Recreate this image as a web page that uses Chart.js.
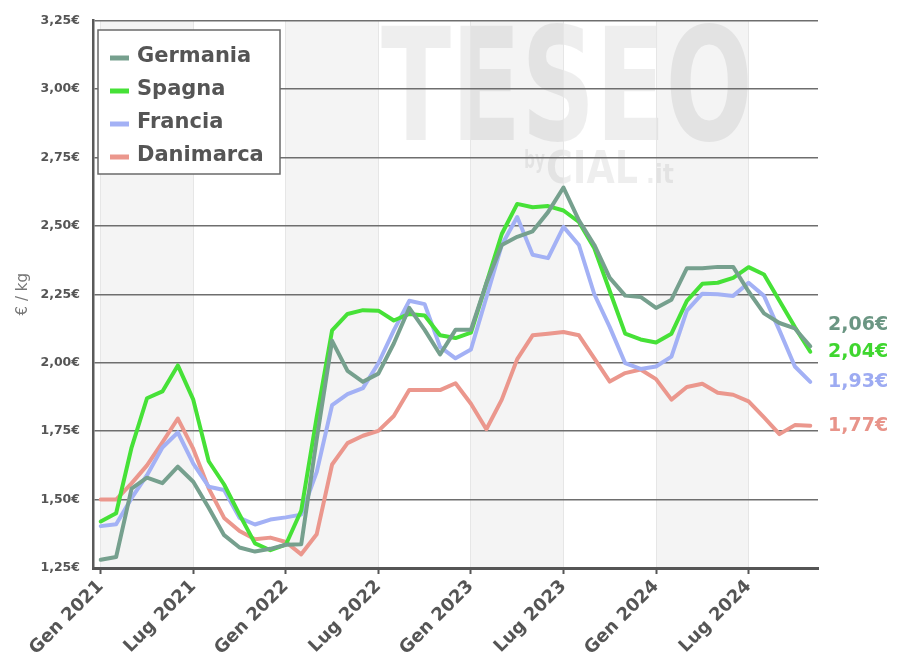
<!DOCTYPE html>
<html>
<head>
<meta charset="utf-8">
<script src="https://cdn.jsdelivr.net/npm/chart.js@4.4.1/dist/chart.umd.min.js"></script>
<style>
  html, body { margin: 0; padding: 0; background: #fff; }
  #wrap { width: 901px; height: 657px; position: relative; }
</style>
</head>
<body>
<div id="wrap"><canvas id="prezzi"></canvas></div>
<script>
// mesi da gen 2021 a nov 2024
var mesi = ['Gen', 'Feb', 'Mar', 'Apr', 'Mag', 'Giu', 'Lug', 'Ago', 'Set', 'Ott', 'Nov', 'Dic'];
var anni = [2021, 2022, 2023, 2024];
var numMesi = 47;

var germania = [1.28, 1.29, 1.54, 1.58, 1.56, 1.62, 1.565, 1.47, 1.37, 1.325, 1.31, 1.32,
  1.335, 1.337, 1.72, 2.08, 1.97, 1.93, 1.96, 2.07, 2.20, 2.12, 2.03, 2.12,
  2.12, 2.29, 2.43, 2.46, 2.48, 2.55, 2.64, 2.52, 2.43, 2.31, 2.245, 2.24,
  2.20, 2.23, 2.345, 2.345, 2.35, 2.35, 2.26, 2.18, 2.145, 2.125, 2.06];
var spagna = [1.42, 1.45, 1.69, 1.87, 1.895, 1.99, 1.865, 1.64, 1.555, 1.445, 1.34, 1.315,
  1.335, 1.46, 1.80, 2.118, 2.178, 2.192, 2.19, 2.154, 2.178, 2.172, 2.10, 2.09,
  2.11, 2.29, 2.47, 2.58, 2.568, 2.572, 2.556, 2.514, 2.418, 2.262, 2.106, 2.085,
  2.074, 2.106, 2.226, 2.288, 2.292, 2.31, 2.349, 2.322, 2.226, 2.13, 2.04];
var francia = [1.403, 1.41, 1.505, 1.589, 1.69, 1.745, 1.631, 1.547, 1.535, 1.433, 1.409, 1.427,
  1.435, 1.445, 1.60, 1.845, 1.885, 1.907, 1.998, 2.118, 2.226, 2.214, 2.058, 2.016,
  2.048, 2.238, 2.43, 2.532, 2.394, 2.382, 2.496, 2.43, 2.25, 2.13, 1.998, 1.977,
  1.986, 2.022, 2.19, 2.252, 2.25, 2.244, 2.292, 2.244, 2.118, 1.986, 1.93];
var danimarca = [1.50, 1.50, 1.559, 1.625, 1.709, 1.796, 1.685, 1.541, 1.433, 1.385, 1.355, 1.361,
  1.345, 1.30, 1.373, 1.628, 1.706, 1.733, 1.751, 1.805, 1.90, 1.90, 1.90, 1.925,
  1.85, 1.757, 1.865, 2.013, 2.10, 2.106, 2.112, 2.10, 2.016, 1.931, 1.962, 1.975,
  1.94, 1.865, 1.911, 1.923, 1.89, 1.883, 1.859, 1.80, 1.739, 1.772, 1.77];

var etichetteMesi = [];
for (let i = 0; i < numMesi; i++) {
    etichetteMesi.push(mesi[i % 12] + ' ' + anni[Math.floor(i / 12)]);
}

function euro(v) {
    return v.toFixed(2).replace('.', ',') + '€';
}

var FONT = "'DejaVu Sans', Verdana, sans-serif";

// fasce grigie gen-lug + scritta TESEO sullo sfondo
const sfondo = {
    id: 'sfondo',
    beforeDraw(chart) {
        const ctx = chart.ctx, area = chart.chartArea, x = chart.scales.x;
        ctx.save();
        ctx.fillStyle = '#f4f4f4';
        for (let i = 0; i < etichetteMesi.length; i++) {
            if (etichetteMesi[i].startsWith('Gen')) {
                const x0 = x.getPixelForValue(i);
                const x1 = x.getPixelForValue(i + 6);
                ctx.fillRect(x0, area.top, x1 - x0, area.bottom - area.top);
            }
        }
        // watermark
        ctx.fillStyle = 'rgba(0,0,0,0.065)';
        ctx.textBaseline = 'alphabetic';
        function scritta(testo, size, left, base, larghezza, altezza) {
            ctx.font = 'bold ' + size + "px 'DejaVu Sans', sans-serif";
            const w = ctx.measureText(testo).width;
            ctx.save();
            ctx.translate(left, base);
            ctx.scale(larghezza / w, altezza / (size * 0.73));
            ctx.fillText(testo, 0, 0);
            ctx.restore();
        }
        scritta('TESEO', 118, 381, 140, 372, 115);
        scritta('by', 20, 524, 168, 21, 18);
        scritta('CIAL', 36, 546, 183, 92, 33);
        scritta('.it', 26, 646, 183, 28, 20);
        ctx.restore();
    }
};

// legenda nel riquadro in alto a sinistra
const legenda = {
    id: 'legenda',
    afterDatasetsDraw(chart) {
        const ctx = chart.ctx;
        const bx = 98, by = 30, bw = 182, bh = 144;
        ctx.save();
        ctx.fillStyle = '#fff';
        ctx.fillRect(bx, by, bw, bh);
        ctx.strokeStyle = '#6a6a6a';
        ctx.lineWidth = 1.5;
        ctx.strokeRect(bx, by, bw, bh);
        ctx.font = 'bold 21px ' + FONT;
        ctx.textBaseline = 'middle';
        chart.data.datasets.forEach((ds, i) => {
            const yy = by + 27 + i * 33;
            ctx.strokeStyle = ds.borderColor;
            ctx.lineWidth = 5;
            ctx.beginPath();
            ctx.moveTo(110, yy + 1);
            ctx.lineTo(129, yy + 1);
            ctx.stroke();
            ctx.fillStyle = '#555';
            ctx.fillText(ds.label, 137, yy);
        });
        ctx.restore();
    }
};

// valori finali a destra
const etichetteFinali = {
    id: 'etichetteFinali',
    afterDatasetsDraw(chart) {
        const ctx = chart.ctx, y = chart.scales.y, area = chart.chartArea;
        let items = chart.data.datasets.map(ds => {
            const v = ds.data[ds.data.length - 1];
            return { v: v, y: y.getPixelForValue(v), color: ds.textColor };
        });
        items.sort((a, b) => a.v - b.v);
        for (let i = 1; i < items.length; i++) {
            if (items[i - 1].y - items[i].y < 27) items[i].y = items[i - 1].y - 27;
        }
        ctx.save();
        ctx.font = 'bold 19px ' + FONT;
        ctx.textBaseline = 'middle';
        ctx.textAlign = 'left';
        items.forEach(it => {
            ctx.fillStyle = it.color;
            ctx.fillText(euro(it.v), area.right + 10, it.y);
        });
        ctx.restore();
    }
};

function serie(label, data, color, textColor) {
    return {
        label: label,
        data: data,
        borderColor: color,
        textColor: textColor,
        backgroundColor: color,
        borderWidth: 4,
        pointRadius: 0,
        pointHoverRadius: 0,
        tension: 0,
        borderJoinStyle: 'round',
        borderCapStyle: 'round',
        fill: false
    };
}

new Chart(document.getElementById('prezzi'), {
    type: 'line',
    data: {
        labels: etichetteMesi,
        datasets: [
            serie('Germania', germania, '#76a08e', '#6b9683'),
            serie('Spagna', spagna, '#46e137', '#3fd62f'),
            serie('Francia', francia, '#a3b1f5', '#9dabf2'),
            serie('Danimarca', danimarca, '#eb978d', '#e8948a')
        ]
    },
    options: {
        responsive: true,
        maintainAspectRatio: false,
        animation: false,
        events: [],
        layout: { padding: { top: 12, right: 83, bottom: 0, left: 0 } },
        plugins: {
            legend: { display: false },
            tooltip: { enabled: false }
        },
        scales: {
            x: {
                type: 'category',
                offset: true,
                afterFit: function (scale) { scale.height = 89; },
                border: { color: '#555', width: 3 },
                grid: { color: '#e6e6e6', lineWidth: 1, tickLength: 6, tickColor: '#555', tickWidth: 2 },
                ticks: {
                    autoSkip: false,
                    maxRotation: 45,
                    minRotation: 45,
                    padding: 2,
                    color: '#555',
                    font: { family: FONT, size: 18, weight: 'bold' },
                    callback: function (val, idx) {
                        const l = etichetteMesi[idx];
                        return (l.startsWith('Gen') || l.startsWith('Lug')) ? l : null;
                    }
                }
            },
            y: {
                min: 1.25,
                max: 3.25,
                afterFit: function (scale) { scale.width = 93; },
                border: { color: '#5a5a5a', width: 2.5 },
                grid: { color: '#6e6e6e', lineWidth: 1.5, drawTicks: false },
                title: {
                    display: true,
                    text: '€ / kg',
                    color: '#777',
                    font: { family: FONT, size: 15 },
                    padding: { top: 14, bottom: 0 }
                },
                ticks: {
                    stepSize: 0.25,
                    padding: 13,
                    color: '#555',
                    font: { family: FONT, size: 12.5, weight: 'bold' },
                    callback: function (v) { return euro(v); }
                }
            }
        }
    },
    plugins: [sfondo, legenda, etichetteFinali]
});
</script>
</body>
</html>
